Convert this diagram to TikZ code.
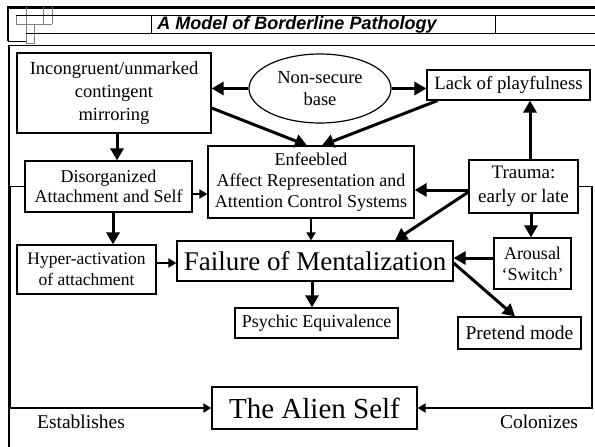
\documentclass[tikz,border=0pt]{standalone}
\usepackage{fontspec}
\setmainfont{Liberation Serif}
\setsansfont{Liberation Sans}
\usetikzlibrary{arrows.meta}
\usetikzlibrary{positioning}
\usetikzlibrary{shapes}
\tikzset{block/.style={draw, line width=1.2pt, text centered, align=center, inner sep=0pt, font=\fontsize{18}{21}\selectfont}}
\tikzset{connect/.style={draw, line width=3pt, -{Triangle[length=12pt,width=13pt]}}}
\tikzset{light/.style={draw, line width=1.8pt, -{Triangle[length=8pt,width=9pt]}}}
\tikzset{rule/.style={draw, line width=0.8pt}}
\tikzset{deco/.style={draw, gray, line width=0.7pt}}

\begin{document}
\begin{tikzpicture}[x=1pt,y=-1pt]
\useasboundingbox (0,0) rectangle (595,447);

% header
\path[draw, line width=2.5pt] (8,41) -- (8,7.5) -- (595,7.5);
\path[rule] (8,41) -- (26,41);
\path[deco] (16,15) rectangle (26,24);
\path[deco] (26,7) -- (26,43) -- (34,43) -- (34,24);
\path[deco] (26,24) -- (52,24);
\path[deco] (43,7) -- (43,24);
\path[deco] (52,7) -- (52,24);
\path[rule] (16,15) -- (595,15);
\path[rule] (26,33) -- (595,33);
\path[rule] (151,15) -- (151,33);
\path[rule] (495,15) -- (495,33);
\node[anchor=base, font=\fontsize{18}{18}\sffamily\bfseries\itshape] (title) at (297,30) {A Model of Borderline Pathology};
\path[draw, line width=1.5pt] (8,45.5) -- (595,45.5);
\path[draw, line width=2pt] (9,45.5) -- (9,447);

% boxes
\node[block, minimum width=194pt, minimum height=80pt, font=\fontsize{18.5}{23}\selectfont] (incong) at (114,93) {Incongruent/unmarked\\contingent\\mirroring};
\node[block, ellipse, minimum width=142pt, minimum height=69pt, font=\fontsize{18.5}{22}\selectfont] (nonsec) at (320,88.5) {Non-secure\\base};
\node[block, minimum width=163pt, minimum height=30pt, font=\fontsize{18.8}{22}\selectfont] (lack) at (508.5,85) {Lack of playfulness};
\node[block, minimum width=206pt, minimum height=72pt] (enfeeb) at (311,182) {Enfeebled\\Affect Representation and\\Attention Control Systems};
\node[block, minimum width=167pt, minimum height=51pt, font=\fontsize{18}{20}\selectfont] (disorg) at (108.5,186.5) {Disorganized\\Attachment and Self};
\node[block, minimum width=109pt, minimum height=53pt, font=\fontsize{19}{24}\selectfont] (trauma) at (523.5,186.5) {Trauma:\\early or late};
\node[block, minimum width=139pt, minimum height=49pt, font=\fontsize{17.5}{21}\selectfont] (hyper) at (86.5,269.5) {Hyper-activation\\of attachment};
\node[block, minimum width=276pt, minimum height=40pt, font=\fontsize{27}{30}\selectfont] (failure) at (315,261) {Failure of Mentalization};
\node[block, minimum width=77pt, minimum height=51pt] (arousal) at (532.5,263.5) {Arousal\\`Switch'};
\node[block, minimum width=163pt, minimum height=30pt] (psychic) at (316.5,323) {Psychic Equivalence};
\node[block, minimum width=123pt, minimum height=32pt, font=\fontsize{19.5}{22}\selectfont] (pretend) at (519.5,333) {Pretend mode};
\node[block, minimum width=205pt, minimum height=42pt, font=\fontsize{29}{32}\selectfont] (alien) at (314.5,408) {The Alien Self};

% arrows
\path[connect] (nonsec.west) -- (nonsec.west -| incong.east);
\path[connect] (nonsec.east) -- (nonsec.east -| lack.west);
\path[connect] ([yshift=-15pt]incong.east) -- ([xshift=-4pt]enfeeb.north);
\path[connect] ([xshift=11pt]lack.south west) -- ([xshift=11pt]enfeeb.north);
\path[connect] ([xshift=3pt]incong.south) -- ([xshift=3pt]incong.south |- disorg.north);
\path[connect] ([xshift=4.5pt]disorg.south) -- ([xshift=4.5pt]disorg.south |- hyper.north);
\path[light] ([yshift=-7.5pt]disorg.east) -- ([yshift=-7.5pt]disorg.east -| enfeeb.west);
\path[light] ([yshift=6.5pt]hyper.east) -- ([yshift=6.5pt]hyper.east -| failure.west);
\path[light] (enfeeb.south) -- (enfeeb.south |- failure.north);
\path[connect] ([xshift=-3pt]failure.south) -- ([xshift=-3pt]failure.south |- psychic.north);
\path[connect] ([xshift=6.5pt]trauma.north) -- ([xshift=6.5pt]trauma.north |- lack.south);
\path[connect] ([yshift=-3.5pt]trauma.west) -- ([yshift=-3.5pt]trauma.west -| enfeeb.east);
\path[connect] ([yshift=-5.5pt]trauma.west) -- ([xshift=80pt]failure.north);
\path[connect] ([xshift=7.5pt]trauma.south) -- ([xshift=7.5pt]trauma.south |- arousal.north);
\path[connect] ([yshift=5.5pt]arousal.west) -- ([yshift=5.5pt]arousal.west -| failure.east);
\path[connect] ([yshift=-2pt]failure.east) -- ([xshift=-4.5pt]pretend.north);

% establishes / colonizes
\path[light] (disorg.west) -- ++(-14.5pt,0) |- (alien.west);
\path[light] (trauma.east) -- ++(13pt,0) |- (alien.east);
\node[font=\fontsize{19.5}{22}\selectfont] (estab) at (81,422) {Establishes};
\node[font=\fontsize{19.5}{22}\selectfont] (colon) at (539,422) {Colonizes};

\end{tikzpicture}
\end{document}
